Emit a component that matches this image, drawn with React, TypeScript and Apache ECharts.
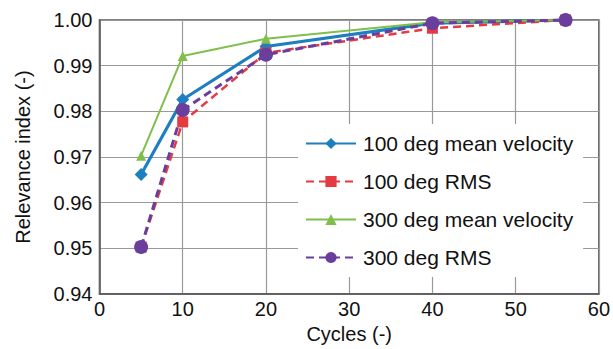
import React, { useEffect, useRef } from "react";
import * as echarts from "echarts";

const cycles = [5, 10, 20, 40, 56];
const mean100 = [0.9662, 0.9826, 0.9942, 0.9993, 1.0];
const rms100 = [0.9503, 0.9777, 0.9928, 0.9982, 1.0];
const mean300 = [0.9703, 0.9921, 0.9959, 0.9995, 1.0];
const rms300 = [0.9503, 0.9803, 0.9924, 0.9993, 1.0];
const seriesNames = ["100 deg mean velocity", "100 deg RMS", "300 deg mean velocity", "300 deg RMS"];

const FONT = "Liberation Sans";

export default function App() {
  const ref = useRef<HTMLDivElement>(null);
  useEffect(() => {
    const chart = echarts.init(ref.current!, null, { renderer: "svg" });
    const pts = (ys: number[]) => cycles.map((x, i) => [x, ys[i]]);
    chart.setOption({
      animation: false,
      textStyle: { fontFamily: FONT },
      grid: {
        left: 99.5, right: 13.5, top: 20, bottom: 53,
        show: true, borderColor: "#555", borderWidth: 1.5, backgroundColor: "transparent",
      },
      legend: {
        orient: "vertical", left: 298, top: 124,
        itemWidth: 50, itemHeight: 14, itemGap: 15,
        backgroundColor: "#fff", padding: [8, 10, 8, 7],
        textStyle: { fontSize: 21, color: "#111", fontFamily: FONT, padding: [0, 0, 0, 2], lineHeight: 23 },
        data: seriesNames,
      },
      xAxis: {
        type: "value", min: 0, max: 60, interval: 10,
        name: "Cycles (-)", nameLocation: "middle", nameGap: 27,
        nameTextStyle: { fontSize: 20, color: "#111" },
        axisLine: { lineStyle: { color: "#555", width: 1.5 } },
        axisTick: { show: false },
        axisLabel: { fontSize: 20, color: "#111", margin: 5 },
        splitLine: { lineStyle: { color: "#999", width: 1.2 } },
      },
      yAxis: {
        type: "value", min: 0.94, max: 1.0, interval: 0.01,
        name: "Relevance index (-)", nameLocation: "middle", nameGap: 67,
        nameTextStyle: { fontSize: 20, color: "#111" },
        axisLine: { show: true, lineStyle: { color: "#555", width: 1.5 } },
        axisTick: { show: false },
        axisLabel: { fontSize: 20, color: "#111", margin: 7, formatter: (v: number) => v.toFixed(2) },
        splitLine: { lineStyle: { color: "#999", width: 1.2 } },
      },
      series: [
        {
          name: seriesNames[0], type: "line", data: pts(mean100),
          symbol: "diamond", symbolSize: 13,
          lineStyle: { color: "#1e7fc0", width: 3.2 }, itemStyle: { color: "#1e7fc0" },
        },
        {
          name: seriesNames[1], type: "line", data: pts(rms100),
          symbol: "rect", symbolSize: 11,
          lineStyle: { color: "#e53a40", width: 2.5, type: [8, 5] }, itemStyle: { color: "#e53a40" },
        },
        {
          name: seriesNames[2], type: "line", data: pts(mean300),
          symbol: "triangle", symbolSize: 10,
          lineStyle: { color: "#7fbf4a", width: 2 }, itemStyle: { color: "#7fbf4a" },
        },
        {
          name: seriesNames[3], type: "line", data: pts(rms300),
          symbol: "circle", symbolSize: 14,
          lineStyle: { color: "#6a3e9c", width: 3, type: [8, 5] }, itemStyle: { color: "#6a3e9c" },
        },
      ],
    });
    return () => chart.dispose();
  }, []);
  return <div ref={ref} style={{ width: 613, height: 349, position: "absolute", left: 0, top: 0, background: "#fff" }} />;
}
